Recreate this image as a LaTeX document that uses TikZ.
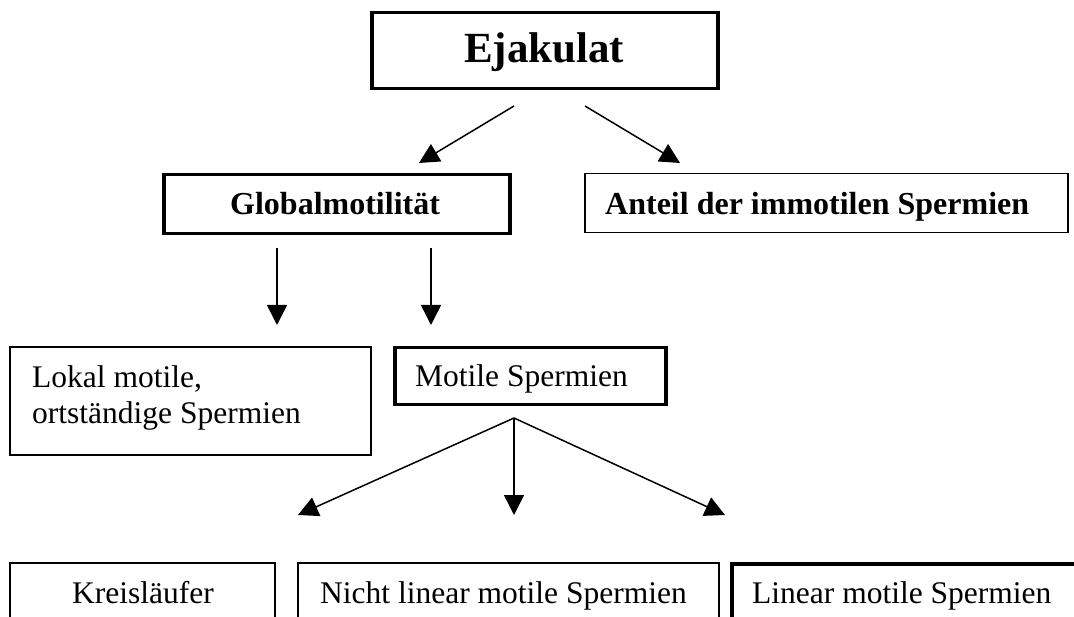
\documentclass[tikz,border=0pt]{standalone}
\usepackage{fontspec}
\setmainfont{Liberation Serif}
\usetikzlibrary{arrows.meta}
\newcommand\regsz{\fontsize{31.5}{36}\selectfont}
\newcommand\boldsz{\fontsize{32}{36}\selectfont\bfseries}
\newcommand\bigsz{\fontsize{43}{48}\selectfont\bfseries}
\begin{document}
\begin{tikzpicture}[x=1pt,y=-1pt,
  boxbase/.style={draw, rectangle, anchor=north west, inner sep=0pt},
  thinb/.style={line width=1.5pt},
  midb/.style={line width=2pt},
  thickb/.style={line width=3.5pt},
  lbl/.style={anchor=base west, inner sep=0pt, font=\regsz},
  conn/.style={line width=1.5pt, -{Triangle[length=20pt,width=20pt]}}
]
\useasboundingbox (0,0) rectangle (1074,617);
\clip (0,0) rectangle (1074,617);

% boxes
\node[boxbase, thickb, minimum width=346pt, minimum height=76pt] (ejak) at (370,11) {};
\node[boxbase, thickb, minimum width=346pt, minimum height=59pt] (glob) at (162,173) {};
\node[boxbase, thinb, minimum width=483pt, minimum height=59pt] (anteil) at (584,173) {};
\node[boxbase, midb, minimum width=361pt, minimum height=108pt] (lokal) at (9,346) {};
\node[boxbase, thickb, minimum width=271pt, minimum height=57pt] (motile) at (393,346) {};
\node[boxbase, thinb, minimum width=265pt, minimum height=70pt] (kreis) at (9,562) {};
\node[boxbase, midb, minimum width=421pt, minimum height=70pt] (nicht) at (297,562) {};
\node[boxbase, thickb, minimum width=370pt, minimum height=70pt] (linear) at (730,562) {};

% texts
\node[lbl, font=\bigsz] (ejakT) at (464,63) {Ejakulat};
\node[lbl, font=\boldsz] (globT) at (230,215) {Globalmotilität};
\node[lbl, font=\boldsz] (anteilT) at (605,215) {Anteil der immotilen Spermien};
\node[lbl] (lokalA) at (32,388) {Lokal motile,};
\node[lbl] (lokalB) at (32,424) {ortständige Spermien};
\node[lbl] (motileT) at (415,387) {Motile Spermien};
\node[lbl] (kreisT) at (72,603) {Kreisläufer};
\node[lbl] (nichtT) at (320,603) {Nicht linear motile Spermien};
\node[lbl] (linearT) at (752,603) {Linear motile Spermien};

% connector end points
\coordinate (eL) at (514,106);
\coordinate (eR) at (585,106);
\coordinate (eLt) at (419,163);
\coordinate (eRt) at (680,163);
\coordinate (gA) at (277,248);
\coordinate (gAt) at (277,325);
\coordinate (gB) at (431,248);
\coordinate (gBt) at (431,325);
\coordinate (mA) at (514,418);
\coordinate (mLt) at (298,515);
\coordinate (mMt) at (514,515);
\coordinate (mRt) at (725,515);

\draw[conn] (eL) -- (eLt);
\draw[conn] (eR) -- (eRt);
\draw[conn] (gA) -- (gAt);
\draw[conn] (gB) -- (gBt);
\draw[conn] (mA) -- (mLt);
\draw[conn] (mA) -- (mMt);
\draw[conn] (mA) -- (mRt);
\end{tikzpicture}
\end{document}
